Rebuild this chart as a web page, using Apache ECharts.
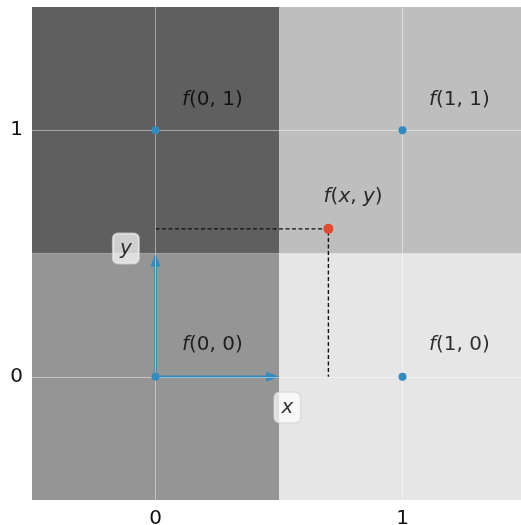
<!DOCTYPE html>
<html><head><meta charset="utf-8">
<script src="https://cdn.jsdelivr.net/npm/echarts@6/dist/echarts.min.js"></script>
<style>html,body{margin:0;padding:0;background:#fff}#c{width:521px;height:525px}</style>
</head><body><div id="c"></div>
<script>
// ---- data ----
var tickValues = [0, 1];
var cells = [ // [x0, y0, x1, y1]
  [-0.5, 0.5, 0.5, 1.5],
  [0.5, 0.5, 1.5, 1.5],
  [-0.5, -0.5, 0.5, 0.5],
  [0.5, -0.5, 1.5, 0.5]
];
var cellColors = ['#5f5f5f', '#bebebe', '#959595', '#e6e6e6'];
var gridPoints = [[0, 0], [0, 1], [1, 0], [1, 1]];
var samplePoint = [0.7, 0.6];
var guidePath = [[0, 0.6], [0.7, 0.6], [0.7, 0]];
var arrows = [ // [x0, y0, x1, y1]
  [0, 0, 0.5, 0],
  [0, 0, 0, 0.5]
];
var fLabels = [
  {pos: [0.23, 1.125], text: '{i|f}(0, 1)'},
  {pos: [1.23, 1.125], text: '{i|f}(1, 1)'},
  {pos: [0.23, 0.13], text: '{i|f}(0, 0)'},
  {pos: [1.23, 0.13], text: '{i|f}(1, 0)'},
  {pos: [0.8, 0.73], text: '{i|f}({i|x}, {i|y})'}
];
var boxLabels = [
  {pos: [0.534, -0.125], text: 'x'},
  {pos: [-0.12, 0.52], text: 'y'}
];

var FONT = 'DejaVu Sans';
var chart = echarts.init(document.getElementById('c'));
chart.setOption({
  animation: false,
  grid: {left: 32, top: 7, width: 494, height: 493, outerBoundsMode: 'none', containLabel: false},
  xAxis: {
    type: 'value', min: -0.5, max: 1.5,
    axisLine: {show: false},
    splitLine: {show: false},
    axisTick: {show: true, customValues: tickValues, length: 4, lineStyle: {color: '#aaa'}},
    axisLabel: {customValues: tickValues, color: '#111', fontSize: 20, fontFamily: FONT, margin: 9}
  },
  yAxis: {
    type: 'value', min: -0.5, max: 1.5,
    axisLine: {show: false},
    splitLine: {show: false},
    axisTick: {show: true, customValues: tickValues, length: 4, lineStyle: {color: '#aaa'}},
    axisLabel: {customValues: tickValues, color: '#111', fontSize: 20, fontFamily: FONT, margin: 9}
  },
  series: [
    {
      type: 'custom', z: 1, silent: true,
      data: cells.map(function (c, i) { return c.concat([i]); }),
      renderItem: function (params, api) {
        var p0 = api.coord([api.value(0), api.value(3)]);
        var p1 = api.coord([api.value(2), api.value(1)]);
        return {type: 'rect', shape: {x: p0[0], y: p0[1], width: p1[0] - p0[0], height: p1[1] - p0[1]},
          style: {fill: cellColors[api.value(4)]}};
      },
      markLine: {
        silent: true, symbol: ['none', 'none'], label: {show: false},
        lineStyle: {color: 'rgba(255,255,255,0.45)', width: 1, type: 'solid'},
        data: tickValues.map(function (v) { return {xAxis: v}; }).concat(tickValues.map(function (v) { return {yAxis: v}; }))
      }
    },
    {
      type: 'line', z: 3, silent: true, data: guidePath, symbol: 'none',
      lineStyle: {color: '#111', width: 1.4, type: [4, 2.5]}
    },
    {
      type: 'custom', z: 4, silent: true, data: arrows,
      renderItem: function (params, api) {
        var a = api.coord([api.value(0), api.value(1)]);
        var b = api.coord([api.value(2), api.value(3)]);
        var dx = b[0] - a[0], dy = b[1] - a[1];
        var len = Math.sqrt(dx * dx + dy * dy);
        var ux = dx / len, uy = dy / len;
        var hl = 13, hw = 5;
        var base = [b[0] - ux * hl, b[1] - uy * hl];
        var col = '#348ABD';
        return {type: 'group', children: [
          {type: 'line', shape: {x1: a[0], y1: a[1], x2: base[0] + ux * 1, y2: base[1] + uy * 1},
            style: {stroke: col, lineWidth: 2.4}},
          {type: 'polygon', shape: {points: [b, [base[0] - uy * hw, base[1] + ux * hw], [base[0] + uy * hw, base[1] - ux * hw]]},
            style: {fill: col}}
        ]};
      }
    },
    {
      type: 'scatter', z: 5, silent: true, data: gridPoints, symbolSize: 8,
      itemStyle: {color: '#348ABD', opacity: 1}
    },
    {
      type: 'scatter', z: 5, silent: true, data: [samplePoint], symbolSize: 10,
      itemStyle: {color: '#E24A33', opacity: 1}
    },
    {
      type: 'scatter', z: 6, silent: true, symbolSize: 0,
      data: fLabels.map(function (l) { return {value: l.pos, label: {formatter: l.text}}; }),
      label: {show: true, position: 'inside', color: '#000', fontSize: 20, fontFamily: FONT,
        rich: {i: {fontStyle: 'italic', fontSize: 20, fontFamily: FONT, color: '#000'}}}
    },
    {
      type: 'scatter', z: 6, silent: true, symbolSize: 0,
      data: boxLabels.map(function (l) { return {value: l.pos, label: {formatter: l.text}}; }),
      label: {show: true, position: 'inside', color: '#000', fontSize: 20, fontFamily: FONT, fontStyle: 'italic',
        backgroundColor: 'rgba(255,255,255,0.88)', borderColor: '#cfcfcf', borderWidth: 1, borderRadius: 5,
        padding: [5, 6, 5, 6], width: 14, height: 20, align: 'center', lineHeight: 20}
    }
  ]
});
</script></body></html>
